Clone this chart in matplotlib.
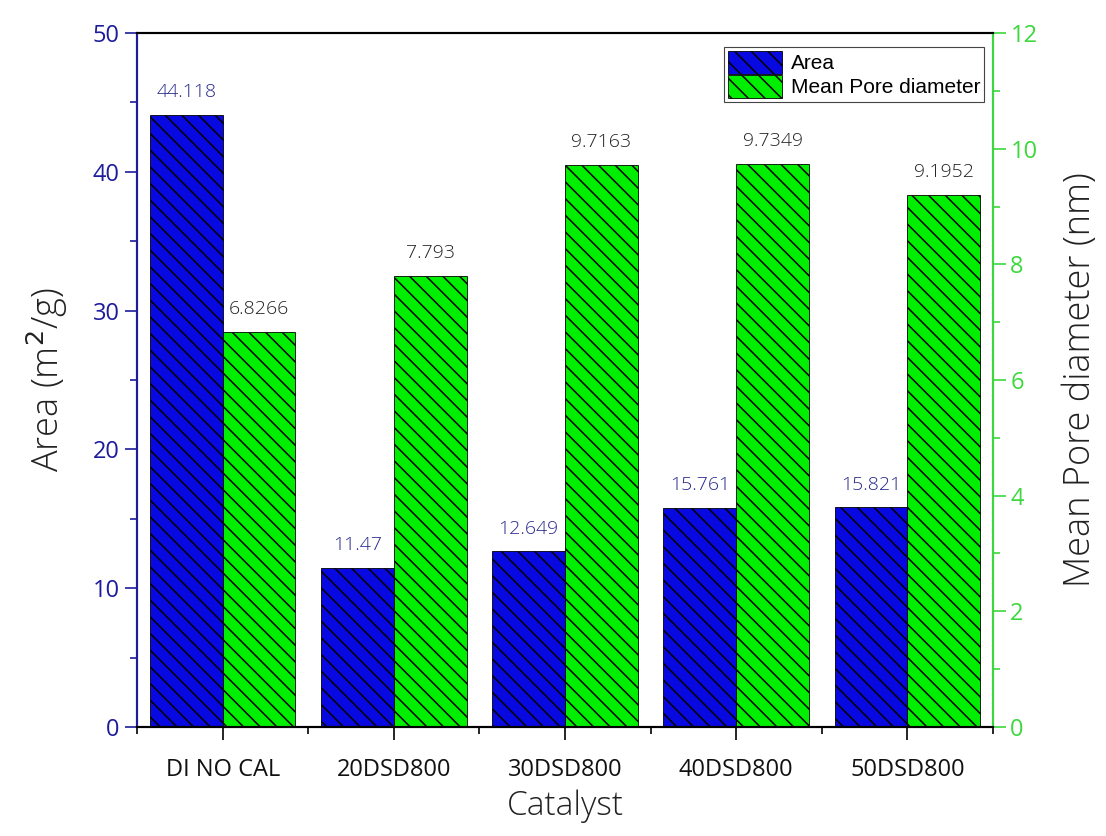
import numpy as np
import matplotlib
matplotlib.use("Agg")
import matplotlib.pyplot as plt
from matplotlib.ticker import MultipleLocator

catalysts = ["DI NO CAL", "20DSD800", "30DSD800", "40DSD800", "50DSD800"]
area = [44.118, 11.47, 12.649, 15.761, 15.821]
pore = [6.8266, 7.793, 9.7163, 9.7349, 9.1952]
area_labels = ["44.118", "11.47", "12.649", "15.761", "15.821"]
pore_labels = ["6.8266", "7.793", "9.7163", "9.7349", "9.1952"]

plt.rcParams['font.family'] = ['Open Sans', 'DejaVu Sans']
plt.rcParams['hatch.color'] = '#1a1a1a'
plt.rcParams['hatch.linewidth'] = 1.1

left_col = '#1c1c9c'
right_col = '#3cd83c'
label_col = '#222222'

fig = plt.figure(figsize=(11.06, 8.36), dpi=100)
ax = fig.add_axes([0.1239, 0.1304, 0.7739, 0.8301])
ax2 = ax.twinx()

x = np.arange(1, len(catalysts) + 1)
w = 0.425
b1 = ax.bar(x - w / 2, area, w, color='#0808e0', edgecolor='black', linewidth=0.6,
            hatch='\\\\', label='Area')
b2 = ax2.bar(x + w / 2, pore, w, color='#00ee00', edgecolor='black', linewidth=0.6,
             hatch='\\\\', label='Mean Pore diameter')

for xi, v, s in zip(x, area, area_labels):
    ax.annotate(s, (xi - w / 2, v), xytext=(0, 10), textcoords='offset points',
                ha='center', va='bottom', fontsize=14, color='#2a2a8c', fontweight='light')
for xi, v, s in zip(x, pore, pore_labels):
    ax2.annotate(s, (xi + w / 2, v), xytext=(0, 10), textcoords='offset points',
                 ha='center', va='bottom', fontsize=14, color='#222222', fontweight='light')

ax.set_xlim(0.5, 5.5)
ax.set_ylim(0, 50)
ax2.set_ylim(0, 12)
ax.set_xticks(x)
ax.set_xticklabels(catalysts, fontsize=17, color='#111111')
ax.xaxis.set_minor_locator(MultipleLocator(0.5))
ax.yaxis.set_major_locator(MultipleLocator(10))
ax.yaxis.set_minor_locator(MultipleLocator(5))
ax2.yaxis.set_major_locator(MultipleLocator(2))
ax2.yaxis.set_minor_locator(MultipleLocator(1))

ax.tick_params(axis='x', which='major', length=9, width=1.2, direction='out', pad=13)
ax.tick_params(axis='x', which='minor', length=5, width=1.2, direction='out')
ax.tick_params(axis='y', which='major', length=9, width=1.2, colors=left_col, labelsize=17)
ax.tick_params(axis='y', which='minor', length=5, width=1.2, colors=left_col)
ax2.tick_params(axis='y', which='major', length=9, width=1.2, colors=right_col, labelsize=17)
ax2.tick_params(axis='y', which='minor', length=5, width=1.2, colors=right_col)

for a in (ax, ax2):
    a.spines['left'].set_color(left_col)
    a.spines['right'].set_color(right_col)
    a.spines['top'].set_color('black')
    a.spines['bottom'].set_color('black')
    for s in a.spines.values():
        s.set_linewidth(1.5)

ax.set_xlabel('Catalyst', fontsize=24, color=label_col, labelpad=6, fontweight='light')
ax.set_ylabel('Area (m$^2$/g)', fontsize=26, color=label_col, labelpad=16, fontweight='light')
ax2.set_ylabel('Mean Pore diameter (nm)', fontsize=26, color=label_col, labelpad=18,
               fontweight='light')

leg = ax.legend([b1, b2], ['Area', 'Mean Pore diameter'], loc='upper right',
                bbox_to_anchor=(0.99, 0.98), fancybox=False, framealpha=1,
                edgecolor='#444444', prop={'family': 'Liberation Sans', 'size': 15},
                borderpad=0.2, handlelength=2.6, handleheight=1.3, labelspacing=0.05,
                handletextpad=0.4, borderaxespad=0.0)
leg.get_frame().set_linewidth(0.8)

fig.savefig('out.png', dpi=100)
